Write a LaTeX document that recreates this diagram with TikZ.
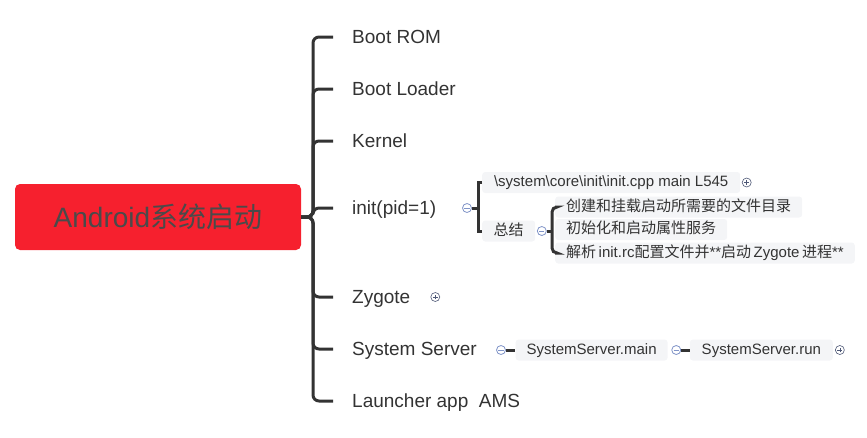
\documentclass[tikz,border=0pt]{standalone}
\usepackage{fontspec}
\setmainfont{Liberation Sans}
\newfontfamily\cjk{Noto Sans CJK SC}
\newcommand{\zhtext}[1]{{\cjk #1}}
\usetikzlibrary{positioning}
\definecolor{rootred}{RGB}{246,32,46}
\definecolor{rootink}{RGB}{74,74,74}
\definecolor{inkgray}{RGB}{51,51,51}
\definecolor{leafbg}{RGB}{244,245,247}
\definecolor{foldblue}{RGB}{128,148,200}
\definecolor{foldgray}{RGB}{78,88,118}

\begin{document}
\begin{tikzpicture}[x=1pt,y=-1pt,
      root_box/.style={
         rectangle,
         rounded corners=5pt,
         fill=rootred,
         text=rootink,
         minimum width=286pt,
         minimum height=66pt,
         font=\fontsize{28}{30}\selectfont},
      topic/.style={
         anchor=west,
         inner sep=0pt,
         text=inkgray,
         text height=13.6pt,
         text depth=0pt,
         font=\fontsize{19}{22}\selectfont},
      leaf/.style={
         rectangle,
         rounded corners=3pt,
         fill=leafbg,
         text=inkgray,
         anchor=west,
         inner xsep=11pt,
         inner ysep=3.5pt,
         text height=11pt,
         text depth=3pt,
         font=\fontsize{15}{17}\selectfont},
      branch/.style={
         draw=inkgray,
         line width=3pt,
         rounded corners=6pt},
      stub/.style={
         draw=inkgray,
         line width=3pt},
      fold_minus/.style={
         circle,
         draw=foldblue,
         fill=white,
         line width=0.8pt,
         inner sep=0pt,
         minimum size=9pt,
         path picture={\draw[foldblue,line width=0.8pt]
            ([xshift=-2.6pt]path picture bounding box.center) --
            ([xshift=2.6pt]path picture bounding box.center);}},
      fold_plus/.style={
         circle,
         draw=foldgray,
         fill=white,
         line width=0.6pt,
         inner sep=0pt,
         minimum size=9pt,
         path picture={\draw[foldgray,line width=0.6pt]
            ([xshift=-2.4pt]path picture bounding box.center) --
            ([xshift=2.4pt]path picture bounding box.center)
            ([yshift=-2.4pt]path picture bounding box.center) --
            ([yshift=2.4pt]path picture bounding box.center);}}
]
      \useasboundingbox (0,0) rectangle (867,437);

      %root
      \node[root_box] (root) at (158,217) {Android\zhtext{系统启动}};

      %main topics
      \node[topic] (rom)       at (352,37)  {Boot ROM};
      \node[topic] (loader)    at (352,89)  {Boot Loader};
      \node[topic] (kernel)    at (352,141) {Kernel};
      \node[topic] (init)      at (352,208) {init(pid=1)};
      \node[topic] (zygote)    at (352,297) {Zygote};
      \node[topic] (sysserver) at (352,349) {System Server};
      \node[topic] (launcher)  at (352,401) {Launcher app\ \ AMS};

      \coordinate (hub) at (313,217);
      \foreach \t in {rom,loader,kernel,init,zygote,sysserver,launcher}
        \draw[branch] (root.east) -- (hub) |- ([xshift=-19pt]\t.west);

      %zygote
      \node[fold_plus,right=20pt of zygote] (zygotefold) {};

      %init
      \node[fold_minus] (initfold) at (467,208) {};
      \node[leaf,minimum width=258pt] (src) at (482,182.5) {\textbackslash system\textbackslash core\textbackslash init\textbackslash init.cpp main L545};
      \node[leaf,minimum width=53pt] (summary) at (482,231) {\zhtext{总结}};
      \node[fold_plus,right=1.5pt of src] (srcfold) {};
      \node[fold_minus,right=1.5pt of summary] (summaryfold) {};

      \coordinate (initjoint) at (478,208);
      \draw[stub] (initfold) -- (initjoint);
      \draw[stub] (src.west) -| (initjoint) |- (summary.west);

      \node[leaf,minimum width=239pt] (mount)  at (555,207)   {\zhtext{创建和挂载启动所需要的文件目录}};
      \node[leaf,minimum width=168pt] (props)  at (555,229.5) {\zhtext{初始化和启动属性服务}};
      \node[leaf,minimum width=295pt] (parse)  at (555,253)   {\zhtext{解析}\,init.rc\zhtext{配置文件并}**\zhtext{启动}\,Zygote\,\zhtext{进程}**};

      \coordinate (sumjoint) at (552,231);
      \draw[stub] (summaryfold) -- (sumjoint);
      \draw[branch,rounded corners=5pt] (mount.west) -| (sumjoint) |- (parse.west);

      %system server
      \node[fold_minus] (ssfold) at (501,350) {};
      \node[leaf,minimum width=148pt,right=9.5pt of ssfold] (ssmain) {SystemServer.main};
      \node[fold_minus,right=3.5pt of ssmain] (ssmainfold) {};
      \node[leaf,minimum width=143pt,right=8.5pt of ssmainfold] (ssrun) {SystemServer.run};
      \node[fold_plus,right=2pt of ssrun] (ssrunfold) {};

      \draw[stub] (ssfold) -- (ssmain);
      \draw[stub] (ssmainfold) -- (ssrun);

\end{tikzpicture}
\end{document}
